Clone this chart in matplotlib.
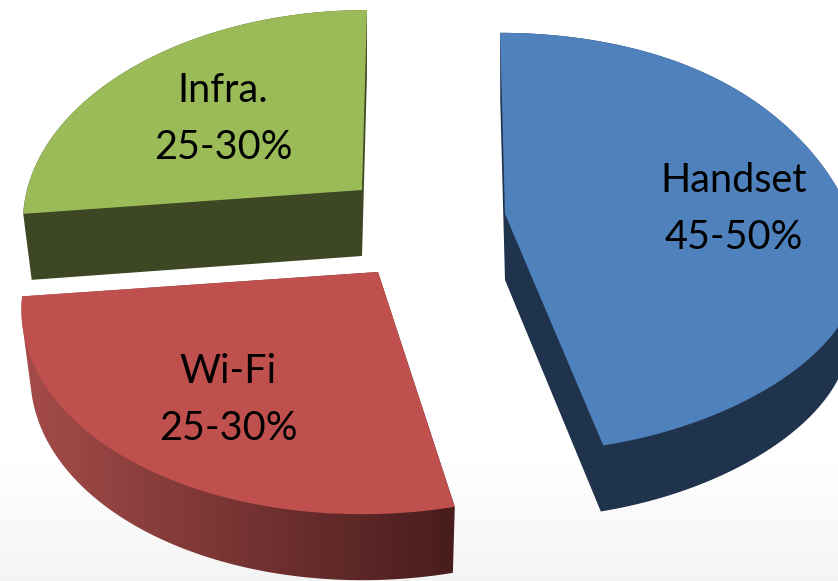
import numpy as np
import matplotlib
matplotlib.use("Agg")
import matplotlib.pyplot as plt
from matplotlib.patches import Polygon

categories = ["Handset", "Wi-Fi", "Infra."]
share_low = [45, 25, 25]
share_high = [50, 30, 30]
top_colors = ["#4f81bd", "#c0504d", "#9bbb59"]
side_colors = ["#1f334d", None, "#3e4723"]

# scene layout of the exploded pseudo-3D pie, in pixels
apex_x = [505, 378, 362]
apex_y = [214, 272, 190]
rad_x = [350, 351, 335]
rad_y = [206, 209, 204.6]
skew = [0.027, -0.066, -0.028]
bulge = [0.10, 0.0, 0.0]
label_x = [734, 228, 223]
label_y = [209, 400, 119]
K, DEPTH, SHRINK = 0.137, 66, 0.975


def wedge_outline(a0, a1, i):
    t = np.radians(np.linspace(a0, a1, 160))
    denom = 1 + K * np.cos(t)
    dx = rad_x[i] * np.sin(t) / denom
    dy = -rad_y[i] * np.cos(t) / denom
    dy = dy + bulge[i] * rad_x[i] * np.sin(t) ** 4 * np.clip(np.sin(t), 0, 1) * 0.5
    dx = dx + skew[i] * dy
    return np.column_stack(([0, *dx], [0, *dy]))


def hull(points):
    pts = sorted(map(tuple, points))
    def half(seq):
        out = []
        for p in seq:
            while len(out) > 1 and ((out[-1][0]-out[-2][0])*(p[1]-out[-2][1])
                                    - (out[-1][1]-out[-2][1])*(p[0]-out[-2][0])) <= 0:
                out.pop()
            out.append(p)
        return out[:-1]
    return np.array(half(pts) + half(pts[::-1]))


fig = plt.figure(figsize=(8.38, 5.81), dpi=100)
ax = fig.add_axes([0, 0, 1, 1])
ax.set_xlim(0, 838)
ax.set_ylim(581, 0)
ax.axis("off")

# faint backdrop gradient at the foot of the slide
shade = np.ones((581, 1))
shade[462:, 0] = np.linspace(0.995, 0.955, 581 - 462)
ax.imshow(shade, cmap="gray", vmin=0, vmax=1, extent=(0, 838, 581, 0), aspect="auto", zorder=0)

mids = [(a + b) / 2 for a, b in zip(share_low, share_high)]
angles = np.concatenate(([0], np.cumsum(mids) / np.sum(mids) * 360))

for i, name in enumerate(categories):
    top = wedge_outline(angles[i], angles[i + 1], i)
    bottom = top * [SHRINK, 1] + [0, DEPTH]
    side = hull(np.vstack((top, bottom))) + [apex_x[i], apex_y[i]]
    top_xy = top + [apex_x[i], apex_y[i]]
    if side_colors[i] is None:
        patch = Polygon(side, closed=True, fc="none", ec="none", zorder=1)
        ax.add_patch(patch)
        ramp = np.linspace(0, 1, 256)[None, :]
        colors = np.empty((1, 256, 3))
        for c, (a, b) in enumerate(zip((165, 76, 74), (72, 28, 28))):
            colors[0, :, c] = (a + (b - a) * ramp[0]) / 255
        im = ax.imshow(colors, extent=(side[:, 0].min(), side[:, 0].max(), 581, 0),
                       aspect="auto", zorder=1)
        im.set_clip_path(patch)
    else:
        ax.add_patch(Polygon(side, closed=True, fc=side_colors[i], ec="none", zorder=1))
    ax.add_patch(Polygon(top_xy, closed=True, fc=top_colors[i], ec="none", zorder=2))
    ax.text(label_x[i], label_y[i], f"{name}\n{share_low[i]}-{share_high[i]}%",
            family="Lato", fontsize=28.5, color="black", ha="center", va="center",
            linespacing=1.67, zorder=3)

ax.set_xlim(0, 838)
ax.set_ylim(581, 0)
fig.savefig("out.png", dpi=100)
